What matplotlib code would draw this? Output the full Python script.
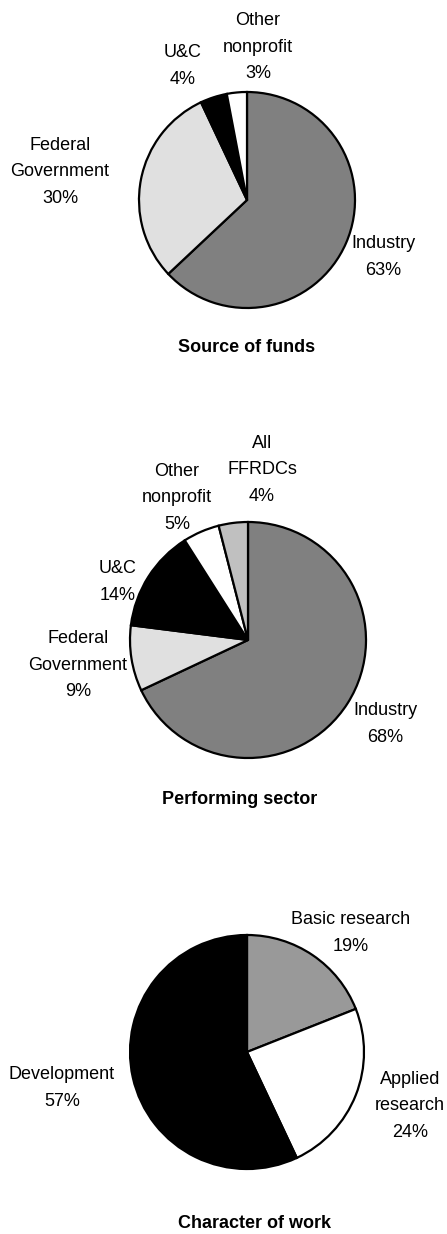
import matplotlib
matplotlib.use("Agg")
import matplotlib.pyplot as plt

plt.rcParams['font.family'] = ['Liberation Sans Narrow', 'Liberation Sans', 'DejaVu Sans']

# Source of funds
fund_names = ["Industry", "Federal\nGovernment", "U&C", "Other\nnonprofit"]
fund_pct = [63, 30, 4, 3]
fund_colors = ["#808080", "#e0e0e0", "#000000", "#ffffff"]

# Performing sector
perf_names = ["Industry", "Federal\nGovernment", "U&C", "Other\nnonprofit", "All\nFFRDCs"]
perf_pct = [68, 9, 14, 5, 4]
perf_colors = ["#808080", "#e0e0e0", "#000000", "#ffffff", "#c0c0c0"]

# Character of work
work_names = ["Basic research", "Applied\nresearch", "Development"]
work_pct = [19, 24, 57]
work_colors = ["#999999", "#ffffff", "#000000"]

W, H = 447, 1234
fig = plt.figure(figsize=(W / 100, H / 100), dpi=100)
ax = fig.add_axes([0, 0, 1, 1])

# pixel layout: (centre x, centre y from top, radius), label spots, title spot
pies = [
    (fund_pct, fund_names, fund_colors, (247, 200, 108),
     [(383, 257), (60, 172), (183, 66), (258, 47)],
     "Source of funds", (247, 348)),
    (perf_pct, perf_names, perf_colors, (248, 640, 118),
     [(385, 724), (78, 665), (118, 582), (177, 498), (262, 470)],
     "Performing sector", (240, 800)),
    (work_pct, work_names, work_colors, (247, 1052, 117),
     [(351, 933), (410, 1106), (62, 1088)],
     "Character of work", (255, 1223)),
]

for vals, names, cols, (cx, cy, r), spots, title, (tx, ty) in pies:
    ax.pie(vals, colors=cols, center=(cx, H - cy), radius=r, startangle=90,
           counterclock=False,
           wedgeprops=dict(edgecolor="black", linewidth=1.6))
    for name, v, (lx, ly) in zip(names, vals, spots):
        ax.text(lx, H - ly, f"{name}\n{v}%", ha="center", va="center",
                fontsize=13, linespacing=1.75)
    ax.text(tx, H - ty, title, ha="center", va="center", fontsize=13,
            fontweight="bold")

ax.set_xlim(0, W)
ax.set_ylim(0, H)
ax.set_aspect("equal")
ax.axis("off")

fig.savefig("out.png", dpi=100)
